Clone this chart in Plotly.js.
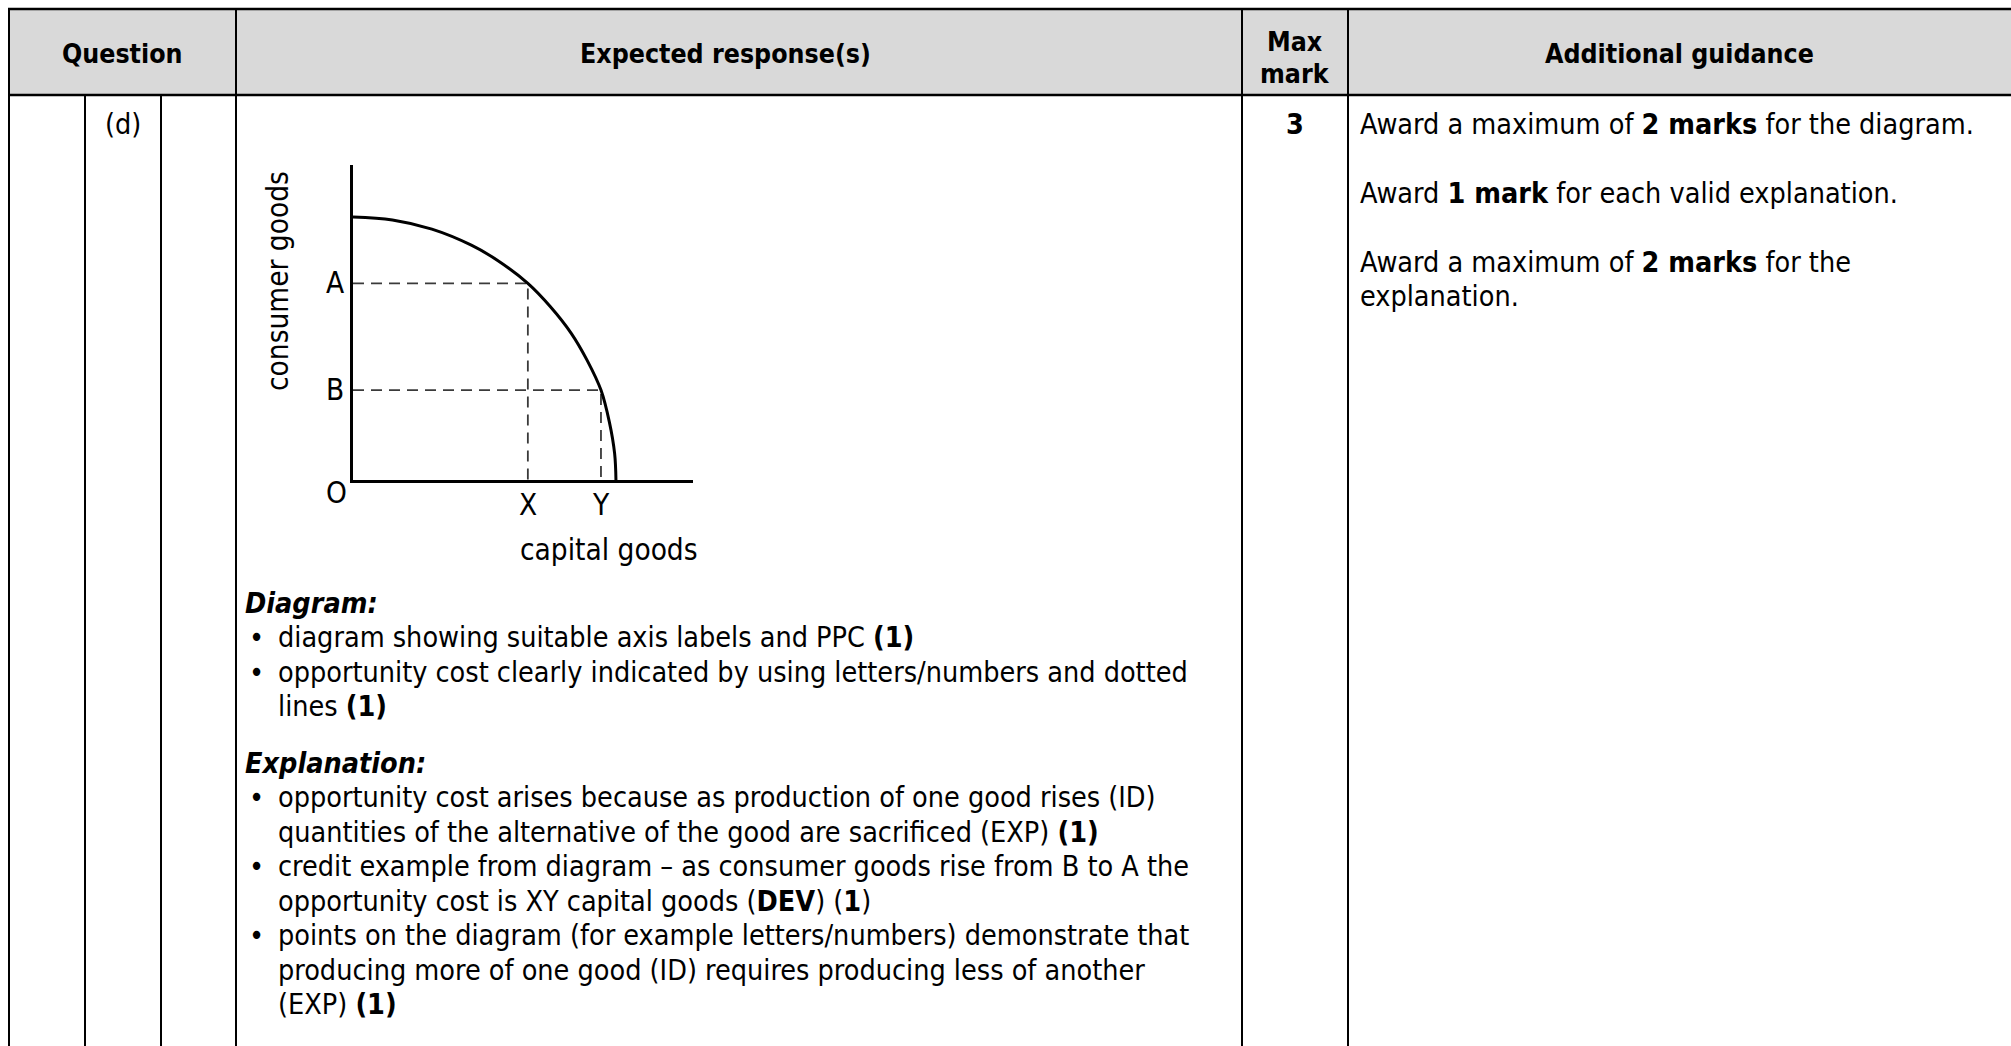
<!DOCTYPE html>
<html><head><meta charset="utf-8">
<script src="https://cdn.plot.ly/plotly-3.0.1.min.js"></script>
<style>html,body{margin:0;padding:0;background:#fff;}#chart{width:2011px;height:1046px;}</style>
</head><body><div id="chart"></div>
<script>
// ---- Data: production possibility curve ----
const ppcCapital  = [0, 1.5, 3, 4.5, 5.5, 6.65, 7.5, 8.3, 8.9, 9.43, 9.75, 9.95, 10];
const ppcConsumer = [10, 9.89, 9.54, 8.93, 8.35, 7.48, 6.6, 5.58, 4.56, 3.42, 2.2, 1.0, 0];
const consumerLabels = ['A', 'B'];
const consumerLevels = [7.48, 3.42];
const capitalLabels  = ['X', 'Y'];
const capitalLevels  = [6.65, 9.43];
const originLabel = 'O';
const xAxisTitle = 'capital goods';
const yAxisTitle = 'consumer goods';

// ---- Table text ----
const headerTexts = ['Question', 'Expected response(s)', 'Max', 'mark', 'Additional guidance'];
const questionPart = '(d)';
const maxMark = '3';
const guidanceLines = [
  'Award a maximum of <b>2 marks</b> for the diagram.',
  'Award <b>1 mark</b> for each valid explanation.',
  'Award a maximum of <b>2 marks</b> for the',
  'explanation.'
];
const diagramHeading = 'Diagram:';
const diagramLines = [
  ['•', 'diagram showing suitable axis labels and PPC <b>(1)</b>'],
  ['•', 'opportunity cost clearly indicated by using letters/numbers and dotted'],
  ['',  'lines <b>(1)</b>']
];
const explanationHeading = 'Explanation:';
const explanationLines = [
  ['•', 'opportunity cost arises because as production of one good rises (ID)'],
  ['',  'quantities of the alternative of the good are sacrificed (EXP) <b>(1)</b>'],
  ['•', 'credit example from diagram – as consumer goods rise from B to A the'],
  ['',  'opportunity cost is XY capital goods (<b>DEV</b>) (<b>1</b>)'],
  ['•', 'points on the diagram (for example letters/numbers) demonstrate that'],
  ['',  'producing more of one good (ID) requires producing less of another'],
  ['',  '(EXP) <b>(1)</b>']
];

// ---- Geometry / style ----
const W = 2011, H = 1046;
const FONT = "'DejaVu Sans Condensed', 'DejaVu Sans', sans-serif";
const BODY = 28.5, HEAD = 26.5, DIAG = 29.5;
const LH = 34.5;
const colX = {left: 9, q1: 85, q2: 161, q3: 236, max: 1242, guid: 1348};
const topY = 9, headBot = 95;

function txt(x, y, text, o) {
  return Object.assign({xref: 'x2', yref: 'y2', x: x, y: y, text: text, showarrow: false,
    xanchor: 'left', yanchor: 'middle', borderpad: 0,
    font: {family: FONT, size: BODY, color: '#000'}}, o || {});
}
function vline(x, y0, y1, w) {
  return {type: 'line', xref: 'x2', yref: 'y2', x0: x, x1: x, y0: y0, y1: y1, line: {color: '#000', width: w || 2}};
}
function hline(y, x0, x1, w) {
  return {type: 'line', xref: 'x2', yref: 'y2', x0: x0, x1: x1, y0: y, y1: y, line: {color: '#000', width: w || 2.5}};
}

const shapes = [
  {type: 'rect', xref: 'x2', yref: 'y2', x0: colX.left, x1: W, y0: topY, y1: headBot, fillcolor: '#d9d9d9', line: {width: 0}, layer: 'below'},
  hline(topY, colX.left - 1, W), hline(headBot, colX.left - 1, W),
  vline(colX.left, topY - 1, H), vline(colX.q3, topY, H), vline(colX.max, topY, H), vline(colX.guid, topY, H),
  vline(colX.q1, headBot, H), vline(colX.q2, headBot, H)
];

const ann = [];
const hy = 53;
const hFont = {family: FONT, size: HEAD, color: '#000'};
ann.push(txt((colX.left + colX.q3) / 2, hy, '<b>' + headerTexts[0] + '</b>', {xanchor: 'center', font: hFont}));
ann.push(txt(725, hy, '<b>' + headerTexts[1] + '</b>', {xanchor: 'center', font: hFont}));
ann.push(txt((colX.max + colX.guid) / 2, 41, '<b>' + headerTexts[2] + '</b>', {xanchor: 'center', font: hFont}));
ann.push(txt((colX.max + colX.guid) / 2, 73, '<b>' + headerTexts[3] + '</b>', {xanchor: 'center', font: hFont}));
ann.push(txt((colX.guid + W) / 2, hy, '<b>' + headerTexts[4] + '</b>', {xanchor: 'center', font: hFont}));

const row1 = 124;
ann.push(txt((colX.q1 + colX.q2) / 2, row1, questionPart, {xanchor: 'center'}));
ann.push(txt((colX.max + colX.guid) / 2, row1, '<b>' + maxMark + '</b>', {xanchor: 'center'}));

const guidY = [row1, row1 + 2 * LH, row1 + 4 * LH, row1 + 5 * LH];
guidanceLines.forEach((t, i) => ann.push(txt(colX.guid + 11, guidY[i], t)));

const headX = 244, bulX = 256, textX = 277;
const diagY = 603;
ann.push(txt(headX, diagY, '<b><i>' + diagramHeading + '</i></b>'));
diagramLines.forEach((l, i) => {
  const y = diagY + (i + 1) * LH;
  if (l[0]) ann.push(txt(bulX, y, l[0], {xanchor: 'center'}));
  ann.push(txt(textX, y, l[1]));
});
const explY = 763;
ann.push(txt(headX, explY, '<b><i>' + explanationHeading + '</i></b>'));
explanationLines.forEach((l, i) => {
  const y = explY + (i + 1) * LH;
  if (l[0]) ann.push(txt(bulX, y, l[0], {xanchor: 'center'}));
  ann.push(txt(textX, y, l[1]));
});

// Diagram labels
const dFont = {family: FONT, size: DIAG, color: '#000'};
consumerLabels.forEach((lab, i) => ann.push({xref: 'x', yref: 'y', x: 0, y: consumerLevels[i], text: lab, showarrow: false,
  xanchor: 'right', yanchor: 'middle', xshift: -7, font: dFont}));
capitalLabels.forEach((lab, i) => ann.push({xref: 'x', yref: 'y', x: capitalLevels[i], y: 0, text: lab, showarrow: false,
  xanchor: 'center', yanchor: 'middle', yshift: -25, font: dFont}));
ann.push({xref: 'x', yref: 'y', x: 0, y: 0, text: originLabel, showarrow: false, xanchor: 'center', yanchor: 'middle', xshift: -17, yshift: -13, font: dFont});
ann.push(txt(609, 550, xAxisTitle, {xanchor: 'center', font: dFont}));
ann.push(txt(278, 281, yAxisTitle, {xanchor: 'center', textangle: -90, font: dFont}));

// Traces
const traces = [];
consumerLevels.forEach((c, i) => {
  traces.push({type: 'scatter', mode: 'lines', x: [0, capitalLevels[i], capitalLevels[i]], y: [c, c, 0],
    line: {color: '#3a3a3a', width: 1.8, dash: '11px,7px'}, hoverinfo: 'skip', showlegend: false});
});
traces.push({type: 'scatter', mode: 'lines', x: ppcCapital, y: ppcConsumer, line: {color: '#000', width: 3, shape: 'spline', smoothing: 1},
  hoverinfo: 'skip', showlegend: false});
traces.push({type: 'scatter', mode: 'markers', x: [], y: [], xaxis: 'x2', yaxis: 'y2', showlegend: false, hoverinfo: 'skip'});

const dx0 = 353, dx1 = 693, dyBot = 480, dyTop = 165;
const layout = {
  width: W, height: H, margin: {l: 0, r: 0, t: 0, b: 0, pad: 0},
  paper_bgcolor: '#fff', plot_bgcolor: 'rgba(0,0,0,0)', showlegend: false,
  xaxis: {domain: [dx0 / W, dx1 / W], range: [0, 12.93], showline: true, linewidth: 3, linecolor: '#000',
    showgrid: false, zeroline: false, showticklabels: false, ticks: '', fixedrange: true, anchor: 'y'},
  yaxis: {domain: [(H - dyBot) / H, (H - dyTop) / H], range: [0, 11.98], showline: true, linewidth: 3, linecolor: '#000',
    showgrid: false, zeroline: false, showticklabels: false, ticks: '', fixedrange: true, anchor: 'x'},
  xaxis2: {domain: [0, 1], range: [0, W], visible: false, fixedrange: true, anchor: 'y2'},
  yaxis2: {domain: [0, 1], range: [H, 0], visible: false, fixedrange: true, anchor: 'x2'},
  shapes: shapes, annotations: ann
};
Plotly.newPlot('chart', traces, layout, {displayModeBar: false, staticPlot: true});
</script></body></html>
